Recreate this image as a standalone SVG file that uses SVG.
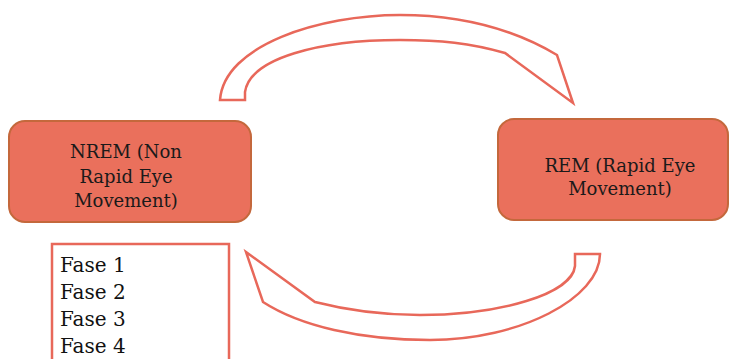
<svg xmlns="http://www.w3.org/2000/svg" width="731" height="359" viewBox="0 0 731 359">
<style>
.node{fill:#EA705C;stroke:#C4683C;stroke-width:2}
.lbl{font-family:"DejaVu Serif","Liberation Serif",serif;font-size:18px;fill:#1a1a1a;text-anchor:middle}
.list{font-family:"DejaVu Serif","Liberation Serif",serif;font-size:20px;fill:#111}
.arrow{fill:#fff;stroke:#E8685A;stroke-width:2.5;stroke-linejoin:miter}
</style>
<rect width="731" height="359" fill="#fff"/>
<g id="connectors">
<path class="arrow" d="M220,100 C224,45 320,15 400,15 C470,15 520,33 557,55 L573,103 L505,53 C470,43 440,40 400,40 C320,40 250,58 245,92 L245,100 Z"/>
<path class="arrow" d="M246,252 L315,302 C350,311 385,315 420,315 C500,315 572,294 575,266 L575,254 L600,254 C600,298 520,340 430,340 C360,340 300,326 263,302 Z"/>
</g>
<g id="nrem">
<rect class="node" x="9" y="121" width="242" height="101" rx="16"/>
<text class="lbl" x="126" y="158">NREM (Non</text>
<text class="lbl" x="126" y="183">Rapid Eye</text>
<text class="lbl" x="126" y="207">Movement)</text>
</g>
<g id="rem">
<rect class="node" x="498" y="119" width="230" height="101" rx="16"/>
<text class="lbl" x="620" y="172">REM (Rapid Eye</text>
<text class="lbl" x="620" y="195">Movement)</text>
</g>
<g id="phases">
<rect x="52" y="244" width="177" height="130" fill="#fff" stroke="#E8685A" stroke-width="2.5"/>
<text class="list" x="60" y="272">Fase 1</text>
<text class="list" x="60" y="299">Fase 2</text>
<text class="list" x="60" y="326">Fase 3</text>
<text class="list" x="60" y="353">Fase 4</text>
</g>
</svg>
